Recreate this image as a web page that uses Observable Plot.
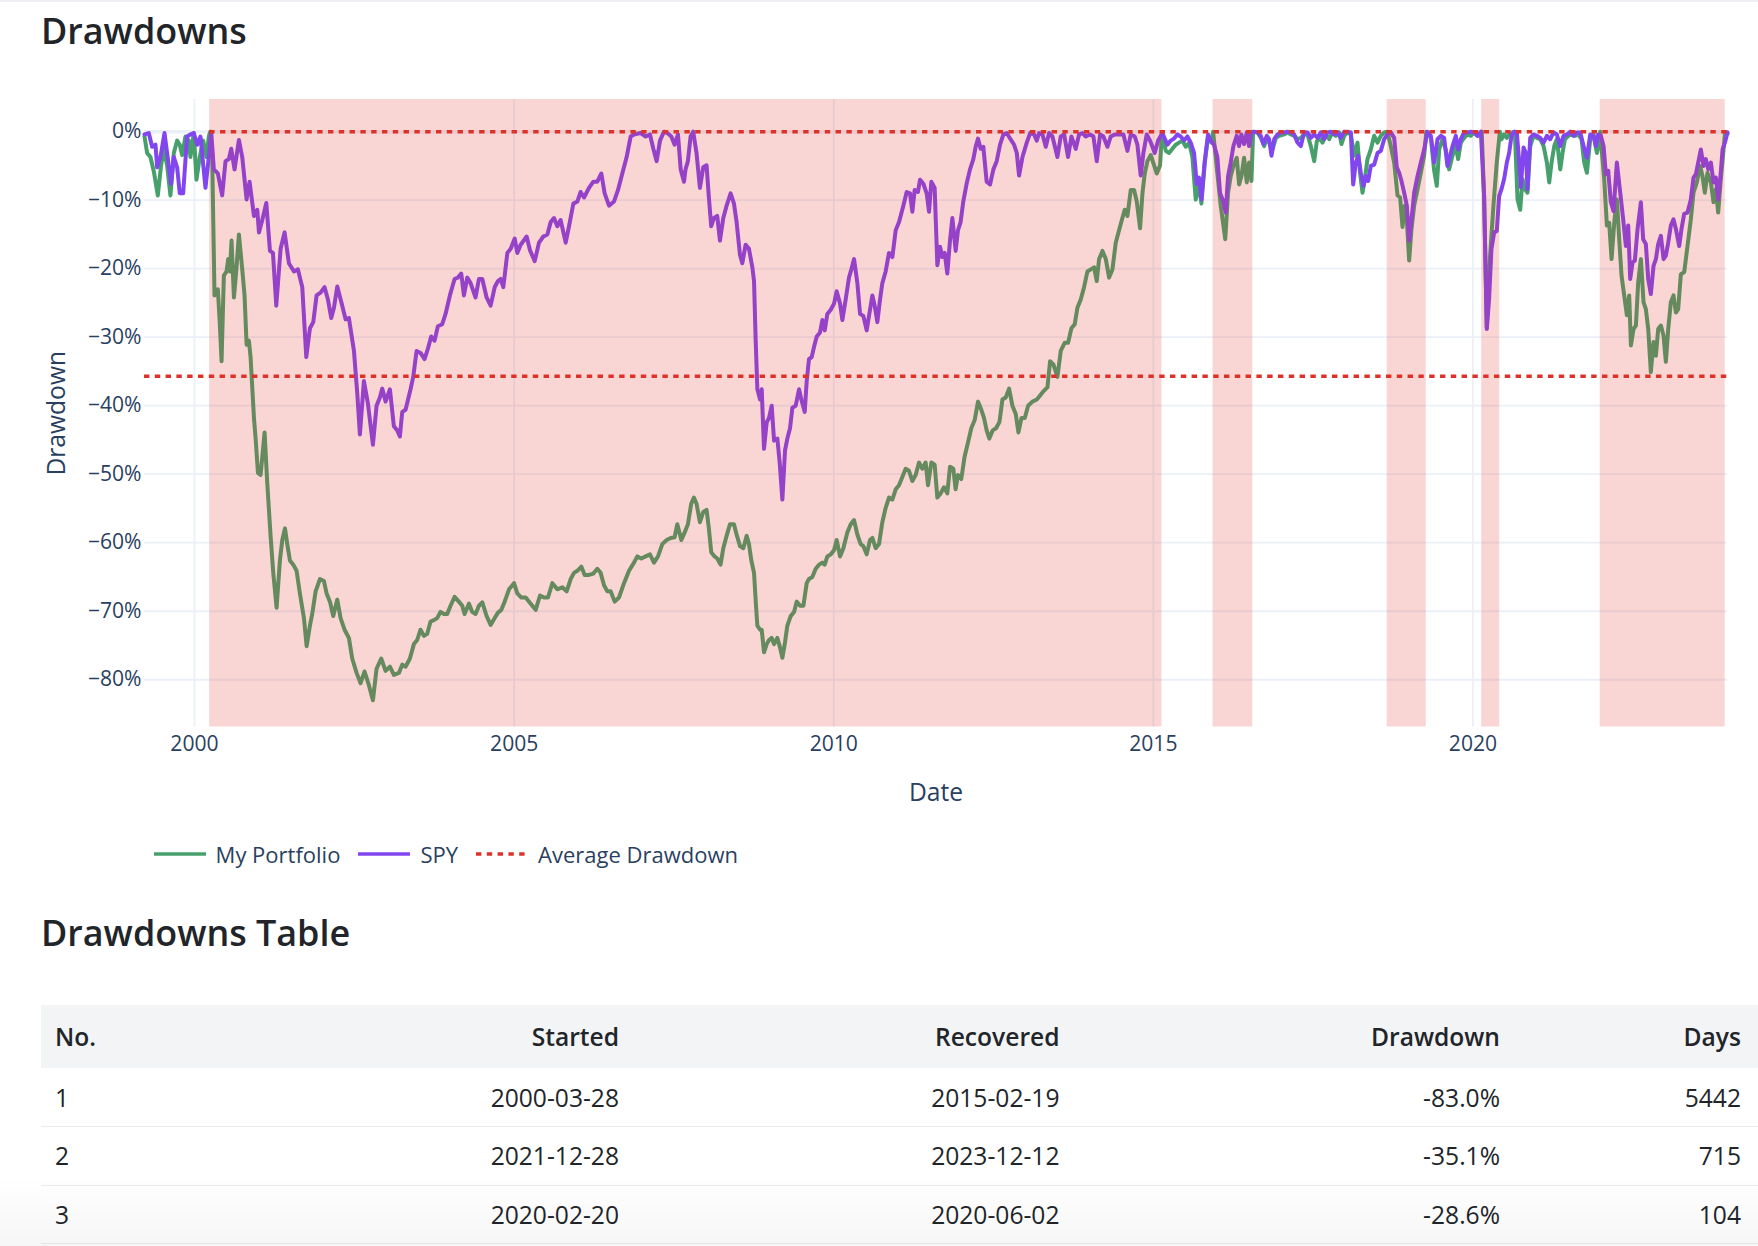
<!DOCTYPE html>
<html>
<head>
<meta charset="utf-8">
<script src="https://cdn.jsdelivr.net/npm/d3@7"></script>
<script src="https://cdn.jsdelivr.net/npm/@observablehq/plot@0.6"></script>
<style>
html, body { margin: 0; padding: 0; background: #ffffff; }
body { width: 1758px; height: 1246px; position: relative; overflow: hidden; font-family: "Open Sans", sans-serif; }
.topline { position: absolute; left: 0; top: 0; width: 1758px; height: 2px; background: #eef0f3; }
.heading { position: absolute; left: 41px; font-size: 35.9px; line-height: 1; font-weight: 600; color: #212529; white-space: nowrap; }
#chart { position: absolute; left: 0; top: 60px; }
#legend { position: absolute; left: 153.6px; top: 839px; height: 30px; display: flex; align-items: center; font-size: 22px; color: #2a3f5f; white-space: nowrap; }
#legend .item { display: flex; align-items: center; margin-right: 18px; }
#legend svg { margin-right: 10px; display: block; }
#table { position: absolute; left: 41px; top: 1005px; width: 1717px; border-collapse: collapse; table-layout: fixed; font-size: 24.6px; color: #212529; }
#table th, #table td { padding: 0 14px; text-align: right; font-weight: 400; white-space: nowrap; }
#table th { font-weight: 600; }
#table th:first-child, #table td:first-child { text-align: left; }
#table th:last-child, #table td:last-child { padding-right: 17px; }
#table thead tr { background: #f3f4f6; height: 63.3px; }
#table tbody tr { height: 58.4px; border-bottom: 1px solid #e9ecef; }
.shade { position: absolute; left: 0; top: 1176px; width: 1758px; height: 70px; background: linear-gradient(to bottom, rgba(0,0,0,0), rgba(0,0,0,0.035)); pointer-events: none; }
</style>
</head>
<body>
<div class="topline"></div>
<div class="heading" style="top:12.5px">Drawdowns</div>
<div id="chart"></div>
<div id="legend"></div>
<div class="heading" style="top:915.2px">Drawdowns Table</div>
<table id="table"></table>
<div class="shade"></div>
<script>
// ---------------- DATA ----------------
// [decimal year, drawdown %]
const portfolioSeries = [
[1999.218,-0.7],[1999.259,-3.1],[1999.311,-3.7],[1999.364,-5.8],[1999.426,-9.3],[1999.478,-4.9],[1999.520,-2.5],[1999.572,-4.9],[1999.624,-9.3],[1999.677,-3.1],[1999.729,-1.3],[1999.770,-1.9],[1999.807,-3.4],[1999.859,-0.7],[1999.911,-1.3],[1999.937,-3.7],[1999.990,-0.2],[2000.031,-7.0],[2000.083,-3.7],[2000.136,-1.3],[2000.188,-3.7],[2000.224,-0.7],[2000.245,0],[2000.276,-3.1],[2000.313,-23.9],[2000.365,-23.0],[2000.396,-28.1],[2000.423,-33.5],[2000.459,-21.0],[2000.501,-20.4],[2000.527,-18.6],[2000.553,-20.4],[2000.579,-15.9],[2000.616,-24.2],[2000.652,-20.4],[2000.694,-15.0],[2000.746,-20.1],[2000.782,-23.9],[2000.814,-31.1],[2000.850,-30.5],[2000.876,-32.9],[2000.929,-41.8],[2000.955,-44.8],[2000.991,-49.8],[2001.033,-50.1],[2001.095,-43.9],[2001.137,-51.3],[2001.189,-59.0],[2001.231,-64.4],[2001.283,-69.5],[2001.335,-62.6],[2001.372,-59.6],[2001.414,-57.9],[2001.450,-60.2],[2001.492,-62.6],[2001.544,-63.2],[2001.596,-64.1],[2001.648,-67.4],[2001.711,-71.0],[2001.753,-75.1],[2001.805,-72.1],[2001.841,-70.4],[2001.894,-67.1],[2001.961,-65.3],[2002.024,-65.6],[2002.066,-67.4],[2002.118,-68.6],[2002.170,-70.7],[2002.233,-68.3],[2002.285,-71.0],[2002.347,-72.7],[2002.415,-73.9],[2002.467,-76.9],[2002.535,-79.0],[2002.598,-80.5],[2002.660,-78.8],[2002.728,-80.8],[2002.791,-83.0],[2002.848,-78.4],[2002.921,-76.9],[2002.989,-78.7],[2003.057,-78.1],[2003.119,-79.3],[2003.198,-79.0],[2003.250,-77.8],[2003.302,-78.1],[2003.370,-76.9],
[2003.432,-74.8],[2003.484,-74.2],[2003.536,-72.7],[2003.589,-73.6],[2003.641,-73.3],[2003.693,-71.5],[2003.745,-71.3],[2003.797,-71.0],[2003.849,-70.1],[2003.902,-70.4],[2003.954,-70.4],[2004.006,-69.2],[2004.069,-67.9],[2004.136,-68.6],[2004.189,-69.2],[2004.225,-70.4],[2004.293,-68.9],[2004.345,-70.1],[2004.397,-70.4],[2004.449,-69.2],[2004.502,-68.7],[2004.569,-70.7],[2004.632,-72.0],[2004.695,-71.0],[2004.747,-70.2],[2004.799,-69.8],[2004.851,-68.6],[2004.919,-66.8],[2004.997,-65.9],[2005.049,-67.4],[2005.112,-68.0],[2005.180,-68.0],[2005.258,-68.9],[2005.336,-69.8],[2005.404,-67.7],[2005.467,-68.0],[2005.529,-68.0],[2005.597,-65.9],[2005.675,-66.8],[2005.754,-66.5],[2005.821,-67.1],[2005.884,-65.3],[2005.936,-64.4],[2005.988,-64.1],[2006.051,-63.5],[2006.103,-64.7],[2006.171,-64.7],[2006.239,-64.5],[2006.301,-63.8],[2006.353,-64.4],[2006.406,-66.2],[2006.458,-67.1],[2006.510,-67.1],[2006.573,-68.6],[2006.640,-68.0],[2006.719,-65.9],[2006.797,-64.1],[2006.875,-62.9],[2006.927,-62.0],[2006.990,-62.3],[2007.058,-62.0],[2007.125,-61.7],[2007.188,-62.9],[2007.251,-62.0],[2007.318,-60.2],[2007.386,-59.6],[2007.449,-59.3],[2007.511,-59.2],[2007.553,-57.3],[2007.616,-59.6],
[2007.682,-58.2],[2007.719,-57.3],[2007.771,-54.3],[2007.813,-53.4],[2007.854,-54.3],[2007.907,-57.0],[2007.959,-55.5],[2008.011,-55.2],[2008.047,-57.9],[2008.084,-61.4],[2008.136,-62.0],[2008.178,-62.3],[2008.230,-63.2],[2008.272,-60.8],[2008.324,-59.0],[2008.376,-57.3],[2008.439,-57.3],[2008.480,-58.8],[2008.533,-60.5],[2008.585,-60.8],[2008.637,-59.0],[2008.673,-60.2],[2008.710,-62.6],[2008.752,-64.4],[2008.783,-69.2],[2008.804,-72.1],[2008.846,-72.7],[2008.872,-72.7],[2008.908,-76.0],[2008.950,-74.8],[2008.986,-74.2],[2009.028,-73.9],[2009.065,-74.8],[2009.117,-73.9],[2009.153,-75.1],[2009.195,-76.8],[2009.237,-74.5],[2009.273,-72.1],[2009.326,-70.7],[2009.378,-70.1],[2009.419,-68.6],[2009.472,-69.2],[2009.524,-69.2],[2009.576,-65.9],[2009.612,-65.3],[2009.664,-65.0],[2009.717,-63.8],[2009.769,-63.2],[2009.821,-62.9],[2009.858,-63.2],[2009.899,-62.0],[2009.952,-61.7],[2010.004,-61.1],[2010.045,-59.6],[2010.098,-62.0],[2010.150,-60.8],[2010.212,-58.5],[2010.265,-57.3],[2010.317,-56.7],[2010.369,-58.8],[2010.421,-60.2],[2010.463,-60.5],[2010.515,-61.7],[2010.567,-59.6],[2010.604,-59.3],[2010.656,-60.8],[2010.708,-60.2],[2010.760,-57.0],[2010.812,-54.9],[2010.864,-53.4],[2010.917,-53.7],[2010.969,-52.2],[2011.021,-51.6],[2011.073,-50.4],[2011.125,-49.2],[2011.177,-49.5],[2011.230,-51.0],[2011.282,-50.1],[2011.334,-48.3],[2011.386,-49.2],[2011.438,-48.3],[2011.475,-51.6],[2011.527,-48.3],[2011.579,-48.6],[2011.621,-53.4],[2011.673,-52.8],[2011.725,-51.9],[2011.777,-52.8],[2011.819,-48.9],[2011.871,-49.2],
[2011.907,-52.2],[2011.944,-50.1],[2011.996,-50.7],[2012.048,-47.4],[2012.100,-45.4],[2012.152,-43.3],[2012.205,-42.1],[2012.257,-39.4],[2012.309,-40.6],[2012.351,-41.8],[2012.392,-43.6],[2012.434,-44.8],[2012.486,-43.6],[2012.538,-43.3],[2012.591,-42.4],[2012.638,-39.1],[2012.690,-38.8],[2012.742,-37.5],[2012.794,-40.0],[2012.846,-41.2],[2012.888,-43.9],[2012.935,-41.8],[2012.987,-41.8],[2013.039,-40.0],[2013.107,-39.4],[2013.175,-39.1],[2013.227,-38.5],[2013.279,-37.9],[2013.342,-37.3],[2013.383,-33.5],[2013.436,-34.0],[2013.498,-35.8],[2013.550,-32.0],[2013.613,-30.8],[2013.665,-30.8],[2013.717,-28.7],[2013.769,-28.1],[2013.811,-25.7],[2013.863,-24.5],[2013.915,-22.7],[2013.968,-20.4],[2014.020,-20.1],[2014.072,-19.8],[2014.114,-21.8],[2014.150,-18.6],[2014.203,-17.4],[2014.255,-18.6],[2014.307,-21.3],[2014.359,-20.1],[2014.411,-16.2],[2014.463,-14.4],[2014.515,-12.6],[2014.552,-11.4],[2014.594,-12.3],[2014.646,-8.5],[2014.698,-8.5],[2014.740,-10.2],[2014.792,-14.1],[2014.829,-9.0],[2014.865,-6.1],[2014.907,-4.3],[2014.959,-3.4],[2015.000,-4.6],[2015.053,-6.1],[2015.105,-4.9],[2015.135,0],[2015.194,-2.8],[2015.246,-3.1],[2015.298,-2.5],[2015.350,-1.9],[2015.402,-1.6],[2015.454,-1.3],[2015.507,-2.2],[2015.559,-1.6],[2015.611,-3.7],[2015.663,-9.9],[2015.715,-7.6],[2015.752,-10.5],[2015.804,-4.6],[2015.856,-0.7],[2015.908,-1.6],[2015.935,0],[2016.002,-6.1],[2016.054,-10.8],[2016.125,-15.7],
[2016.169,-8.9],[2016.210,-6.5],[2016.252,-5.0],[2016.304,-3.8],[2016.341,-7.7],[2016.377,-6.5],[2016.419,-3.8],[2016.461,-7.4],[2016.497,-4.5],[2016.534,-7.2],[2016.560,0],[2016.628,-0.1],[2016.680,-0.9],[2016.732,-2.1],[2016.774,-0.9],[2016.810,-1.6],[2016.863,-2.6],[2016.915,-0.9],[2016.967,-0.6],[2017.045,-0.4],[2017.097,-0.1],[2017.150,-0.4],[2017.202,-0.6],[2017.254,-1.1],[2017.306,-0.9],[2017.358,-0.4],[2017.410,-0.4],[2017.462,-2.1],[2017.515,-4.3],[2017.556,-1.4],[2017.593,-0.9],[2017.645,-1.6],[2017.697,-0.4],[2017.749,-1.1],[2017.801,-0.1],[2017.854,-0.6],[2017.906,-0.1],[2017.942,-1.8],[2017.984,-0.6],[2018.036,-0.1],[2018.088,-0.4],[2018.141,-3.5],[2018.193,-1.6],[2018.235,-6.2],[2018.271,-8.9],[2018.308,-6.9],[2018.349,-4.0],[2018.401,-2.6],[2018.454,-0.6],[2018.506,-1.6],[2018.558,-0.6],[2018.610,-0.1],[2018.662,0],[2018.714,-2.1],[2018.767,-4.5],[2018.819,-9.3],[2018.860,-9.6],[2018.897,-13.9],[2018.933,-10.8],[2018.965,-12.8],[2019.001,-18.8],[2019.038,-14.2],[2019.080,-10.8],[2019.132,-8.4],[2019.184,-6.0],[2019.236,-3.5],[2019.270,0],[2019.341,-0.9],[2019.393,-5.7],[2019.434,-7.9],[2019.471,-2.6],[2019.523,-1.1],[2019.575,-2.6],[2019.627,-5.5],[2019.680,-3.5],[2019.732,-2.1],[2019.768,-4.0],[2019.810,-1.6],[2019.862,-0.9],[2019.914,-0.4],[2019.966,-0.6],[2020.018,-0.1],[2020.071,-0.6],[2020.137,0],
[2020.174,-9.4],[2020.216,-28.6],[2020.268,-18.1],[2020.320,-10.8],[2020.372,-4.5],[2020.420,0],[2020.445,-1.1],[2020.487,-0.4],[2020.529,-0.9],[2020.565,-0.4],[2020.618,-0.1],[2020.654,0],[2020.696,-9.9],[2020.738,-11.4],[2020.774,-6.9],[2020.811,-8.4],[2020.852,-8.9],[2020.894,-2.1],[2020.946,-0.6],[2020.998,-0.9],[2021.051,-1.1],[2021.103,-2.1],[2021.155,-4.5],[2021.191,-7.4],[2021.228,-4.5],[2021.270,-2.1],[2021.311,-1.1],[2021.364,-5.5],[2021.400,-3.1],[2021.437,-1.1],[2021.489,-0.6],[2021.541,-0.4],[2021.593,-0.6],[2021.645,-0.4],[2021.697,-1.1],[2021.739,-4.5],[2021.781,-6.0],[2021.833,-1.1],[2021.885,-0.4],[2021.937,-3.1],[2021.974,-1.6],[2021.988,0],[2022.052,-6.9],[2022.094,-13.7],[2022.130,-13.3],[2022.167,-18.6],[2022.209,-13.3],[2022.250,-9.9],[2022.287,-15.7],[2022.323,-21.0],[2022.365,-23.9],[2022.407,-26.8],[2022.443,-23.9],[2022.470,-31.2],[2022.511,-28.8],[2022.548,-28.3],[2022.584,-22.0],[2022.626,-18.6],[2022.668,-24.9],[2022.704,-25.9],[2022.741,-28.8],[2022.782,-35.1],[2022.824,-30.7],[2022.861,-32.7],[2022.897,-28.8],[2022.939,-28.3],[2022.981,-29.8],[2023.017,-33.6],[2023.054,-28.8],[2023.095,-24.9],[2023.137,-23.9],[2023.174,-26.4],[2023.210,-25.9],[2023.252,-20.8],[2023.304,-20.5],[2023.356,-16.7],[2023.408,-12.8],[2023.450,-8.9],[2023.502,-7.4],[2023.554,-5.0],[2023.591,-6.5],[2023.627,-8.9],[2023.669,-6.0],[2023.722,-7.4],[2023.763,-10.3],[2023.800,-8.4],[2023.836,-11.8],[2023.878,-6.9],[2023.920,-2.6],[2023.945,0],[2023.982,-0.3]
];

const spySeries = [
[1999.218,-0.4],[1999.285,-0.2],[1999.337,-2.2],[1999.390,-1.9],[1999.416,-5.2],[1999.468,-3.7],[1999.531,-0.2],[1999.572,-3.1],[1999.635,-7.6],[1999.677,-3.7],[1999.729,-5.2],[1999.770,-9.0],[1999.823,-9.0],[1999.885,-0.7],[1999.937,-0.4],[1999.990,-0.2],[2000.042,-1.9],[2000.094,-0.7],[2000.172,-8.2],[2000.224,-3.7],[2000.261,0],[2000.303,-5.5],[2000.365,-6.1],[2000.433,-9.3],[2000.485,-4.3],[2000.537,-4.0],[2000.574,-2.5],[2000.626,-5.5],[2000.694,-1.2],[2000.746,-3.7],[2000.814,-9.9],[2000.861,-7.3],[2000.929,-12.3],[2000.981,-11.4],[2001.007,-14.7],[2001.059,-12.9],[2001.122,-10.4],[2001.179,-17.4],[2001.226,-17.7],[2001.278,-25.4],[2001.346,-17.1],[2001.408,-14.7],[2001.476,-19.2],[2001.555,-20.4],[2001.617,-20.1],[2001.685,-22.7],[2001.748,-32.9],[2001.805,-28.7],[2001.857,-27.8],[2001.909,-23.9],[2001.972,-23.5],[2002.034,-22.7],[2002.087,-24.5],[2002.139,-27.2],[2002.181,-25.7],[2002.233,-22.6],[2002.311,-25.4],[2002.363,-27.4],[2002.415,-27.2],[2002.494,-32.0],[2002.546,-38.2],[2002.587,-44.2],[2002.650,-36.4],[2002.713,-39.7],[2002.791,-45.7],[2002.848,-40.0],[2002.900,-38.8],[2002.937,-37.5],[2002.989,-39.4],[2003.057,-37.6],[2003.119,-43.0],[2003.172,-43.6],[2003.213,-44.5],[2003.250,-40.9],[2003.302,-40.6],[2003.380,-37.6],
[2003.422,-35.8],[2003.474,-32.0],[2003.536,-32.3],[2003.599,-33.2],[2003.651,-31.7],[2003.703,-29.9],[2003.756,-30.5],[2003.808,-28.4],[2003.876,-28.1],[2003.928,-26.6],[2003.996,-23.9],[2004.069,-21.5],[2004.121,-21.3],[2004.173,-20.7],[2004.215,-23.9],[2004.267,-21.3],[2004.319,-22.1],[2004.397,-24.2],[2004.449,-21.5],[2004.502,-21.5],[2004.569,-24.2],[2004.632,-25.4],[2004.695,-22.7],[2004.747,-21.8],[2004.788,-21.5],[2004.830,-22.7],[2004.893,-17.7],[2004.945,-17.1],[2005.008,-15.6],[2005.049,-17.7],[2005.101,-16.5],[2005.195,-15.3],[2005.247,-17.3],[2005.321,-18.9],[2005.388,-16.2],[2005.456,-15.3],[2005.519,-15.0],[2005.571,-13.2],[2005.623,-12.6],[2005.675,-13.8],[2005.727,-12.9],[2005.806,-16.2],[2005.858,-13.8],[2005.926,-10.5],[2005.988,-10.2],[2006.040,-8.8],[2006.093,-9.6],[2006.171,-8.2],[2006.239,-7.3],[2006.301,-7.3],[2006.364,-6.1],[2006.416,-9.0],[2006.484,-10.8],[2006.562,-10.2],[2006.625,-8.5],[2006.692,-6.1],[2006.760,-3.7],[2006.823,-0.7],[2006.875,-0.4],[2006.979,-0.2],[2007.058,-0.7],[2007.125,-0.4],[2007.178,-2.5],[2007.230,-4.3],[2007.282,-1.3],[2007.344,0],[2007.397,-0.2],[2007.459,-0.7],[2007.511,-1.9],[2007.564,-0.4],[2007.606,-5.5],[2007.658,-7.3],
[2007.682,-5.5],[2007.719,-4.3],[2007.761,-0.7],[2007.802,0],[2007.854,-3.1],[2007.907,-8.2],[2007.959,-5.2],[2008.011,-4.9],[2008.047,-9.6],[2008.084,-13.8],[2008.126,-12.6],[2008.178,-12.3],[2008.220,-15.9],[2008.272,-12.6],[2008.324,-10.8],[2008.387,-9.0],[2008.439,-10.5],[2008.480,-13.2],[2008.533,-18.0],[2008.569,-19.2],[2008.621,-16.5],[2008.673,-17.1],[2008.726,-19.8],[2008.752,-21.8],[2008.778,-30.5],[2008.804,-37.6],[2008.846,-39.1],[2008.872,-37.6],[2008.908,-46.3],[2008.950,-42.4],[2008.986,-41.8],[2009.028,-40.0],[2009.065,-45.1],[2009.117,-44.8],[2009.153,-48.3],[2009.195,-53.7],[2009.237,-46.5],[2009.273,-44.8],[2009.315,-43.3],[2009.352,-40.3],[2009.404,-40.0],[2009.456,-37.6],[2009.492,-39.1],[2009.545,-40.9],[2009.576,-36.4],[2009.612,-33.2],[2009.654,-32.9],[2009.691,-31.4],[2009.733,-29.9],[2009.785,-29.3],[2009.821,-27.5],[2009.858,-29.0],[2009.899,-26.6],[2009.952,-26.0],[2010.004,-25.1],[2010.045,-23.3],[2010.098,-25.1],[2010.134,-27.5],[2010.186,-24.5],[2010.238,-21.3],[2010.275,-20.1],[2010.317,-18.6],[2010.369,-22.1],[2010.411,-26.6],[2010.463,-26.9],[2010.515,-29.0],[2010.551,-26.9],[2010.604,-23.9],[2010.640,-25.4],[2010.682,-27.8],[2010.724,-24.5],[2010.760,-22.1],[2010.812,-20.4],[2010.864,-17.7],[2010.917,-18.3],[2010.969,-14.4],[2011.021,-13.2],[2011.089,-10.8],[2011.141,-8.8],[2011.193,-9.0],[2011.230,-11.7],[2011.266,-8.5],[2011.318,-8.8],[2011.350,-7.0],[2011.402,-7.6],[2011.454,-9.0],[2011.491,-11.7],[2011.527,-7.3],[2011.579,-8.2],[2011.621,-19.5],[2011.663,-16.8],[2011.699,-18.3],[2011.736,-17.7],[2011.777,-20.7],[2011.819,-15.9],[2011.856,-12.6],[2011.908,-17.4],
[2011.944,-14.4],[2011.985,-13.2],[2012.027,-10.2],[2012.079,-7.6],[2012.132,-5.5],[2012.184,-4.0],[2012.220,-2.2],[2012.257,-1.0],[2012.298,-2.5],[2012.340,-2.2],[2012.392,-7.3],[2012.445,-7.7],[2012.497,-5.5],[2012.549,-4.3],[2012.601,-1.9],[2012.653,-0.4],[2012.705,-0.2],[2012.758,-1.0],[2012.820,-1.9],[2012.862,-3.1],[2012.898,-6.4],[2012.951,-3.7],[2013.018,-1.6],[2013.071,-0.2],[2013.133,-0.4],[2013.175,-1.3],[2013.211,-0.2],[2013.264,-0.4],[2013.316,-2.2],[2013.368,-0.2],[2013.420,-0.7],[2013.498,-3.7],[2013.550,-0.7],[2013.603,-0.4],[2013.665,-3.7],[2013.717,-0.7],[2013.785,-2.5],[2013.837,-0.4],[2013.890,-0.2],[2013.942,-0.7],[2014.009,-0.4],[2014.062,-0.7],[2014.114,-4.3],[2014.166,-0.4],[2014.218,-0.7],[2014.281,-2.2],[2014.333,-0.7],[2014.396,-0.4],[2014.463,-0.4],[2014.531,-0.4],[2014.594,-2.8],[2014.646,-0.4],[2014.709,-0.7],[2014.750,-1.9],[2014.802,-6.4],[2014.844,-3.1],[2014.896,-0.4],[2014.948,-1.3],[2014.985,-2.2],[2015.021,-3.1],[2015.074,-1.3],[2015.141,-0.2],[2015.220,-1.9],[2015.272,-1.3],[2015.324,-1.0],[2015.376,-0.4],[2015.428,-0.7],[2015.480,-1.3],[2015.533,-0.7],[2015.585,-1.6],[2015.637,-3.1],[2015.679,-7.6],[2015.715,-6.7],[2015.752,-9.9],[2015.804,-4.3],[2015.856,-0.4],[2015.898,-1.3],[2015.950,-1.9],[2016.002,-3.7],[2016.044,-9.0],[2016.096,-10.2],
[2016.132,-11.8],[2016.169,-6.5],[2016.210,-4.5],[2016.252,-2.1],[2016.304,-0.6],[2016.341,-2.1],[2016.377,-0.4],[2016.419,-1.8],[2016.461,-0.1],[2016.497,-2.1],[2016.534,-0.1],[2016.576,0],[2016.628,-0.1],[2016.680,-0.6],[2016.722,-1.8],[2016.774,-0.6],[2016.810,-1.1],[2016.847,-3.5],[2016.889,-1.1],[2016.941,-0.4],[2016.993,-0.1],[2017.045,-0.1],[2017.097,0],[2017.150,-0.1],[2017.202,-0.4],[2017.254,-1.6],[2017.306,-2.1],[2017.358,-0.1],[2017.410,-0.1],[2017.462,-0.9],[2017.515,-0.4],[2017.567,-0.9],[2017.619,-0.1],[2017.671,-1.1],[2017.723,-0.1],[2017.775,0],[2017.828,-0.4],[2017.880,-0.1],[2017.932,-0.9],[2017.984,0],[2018.036,0],[2018.088,-0.1],[2018.125,-7.7],[2018.167,-4.5],[2018.203,-3.5],[2018.245,-6.0],[2018.287,-7.9],[2018.323,-6.5],[2018.360,-7.2],[2018.401,-5.0],[2018.454,-4.8],[2018.506,-3.1],[2018.558,-2.8],[2018.610,-1.1],[2018.662,-0.4],[2018.714,-0.1],[2018.767,-0.9],[2018.808,-5.2],[2018.845,-6.0],[2018.881,-7.2],[2018.923,-8.9],[2018.965,-10.8],[2019.001,-15.9],[2019.038,-12.8],[2019.080,-8.9],[2019.132,-6.5],[2019.184,-4.5],[2019.236,-2.6],[2019.288,0],[2019.341,-0.6],[2019.393,-4.5],[2019.445,-1.1],[2019.497,-0.6],[2019.549,-0.9],[2019.601,-5.0],[2019.643,-3.5],[2019.680,-2.1],[2019.732,-0.6],[2019.768,-2.6],[2019.810,-1.1],[2019.862,-0.1],[2019.914,-0.1],[2019.966,0],[2020.018,-0.1],[2020.071,-0.6],[2020.123,0],
[2020.174,-9.4],[2020.216,-28.8],[2020.252,-24.4],[2020.289,-17.1],[2020.331,-14.7],[2020.372,-14.5],[2020.409,-9.4],[2020.445,-8.4],[2020.487,-6.9],[2020.529,-4.5],[2020.565,-3.1],[2020.602,-0.6],[2020.644,0],[2020.685,-0.1],[2020.722,-4.5],[2020.748,-8.1],[2020.790,-2.3],[2020.826,-3.1],[2020.852,-8.4],[2020.894,-0.9],[2020.946,-0.4],[2020.998,-0.6],[2021.051,-0.9],[2021.103,-1.6],[2021.155,-0.6],[2021.207,-1.1],[2021.259,-0.1],[2021.311,-0.4],[2021.364,-2.1],[2021.416,-0.6],[2021.468,-0.4],[2021.520,0],[2021.572,-0.6],[2021.624,-0.1],[2021.677,-0.1],[2021.729,-2.1],[2021.781,-3.8],[2021.833,-0.4],[2021.885,-0.6],[2021.922,-2.1],[2021.958,-0.4],[2022.000,-0.6],[2022.042,-2.1],[2022.078,-6.2],[2022.115,-5.7],[2022.156,-10.3],[2022.198,-11.6],[2022.250,-4.5],[2022.303,-8.9],[2022.355,-13.3],[2022.391,-16.7],[2022.428,-13.7],[2022.459,-21.5],[2022.496,-19.1],[2022.532,-18.8],[2022.574,-14.2],[2022.626,-10.3],[2022.662,-15.7],[2022.704,-16.4],[2022.741,-21.5],[2022.782,-23.7],[2022.824,-19.6],[2022.861,-18.6],[2022.897,-16.4],[2022.939,-15.2],[2022.981,-18.6],[2023.017,-18.1],[2023.054,-16.2],[2023.095,-13.7],[2023.137,-12.8],[2023.174,-14.2],[2023.226,-16.7],[2023.262,-14.2],[2023.304,-12.0],[2023.356,-11.8],[2023.408,-9.9],[2023.450,-6.7],[2023.487,-6.2],[2023.523,-4.5],[2023.565,-2.6],[2023.607,-5.0],[2023.643,-4.0],[2023.680,-5.5],[2023.722,-4.5],[2023.763,-7.4],[2023.800,-6.7],[2023.836,-9.9],[2023.868,-6.9],[2023.905,-2.6],[2023.941,-1.6],[2023.982,-0.1]
];

const drawdownStarts = ["2000-03-28", "2015-12-08", "2018-08-29", "2020-02-20", "2021-12-28"];
const drawdownEnds   = ["2015-02-19", "2016-07-22", "2019-04-09", "2020-06-02", "2023-12-12"];
const averageDrawdownPct = -35.7;

const yTicks = [0, -0.1, -0.2, -0.3, -0.4, -0.5, -0.6, -0.7, -0.8];
const xTickYears = [2000, 2005, 2010, 2015, 2020];
const seriesNames = ["My Portfolio", "SPY", "Average Drawdown"];

const tableNo = [1, 2, 3];
const tableStarted = ["2000-03-28", "2021-12-28", "2020-02-20"];
const tableRecovered = ["2015-02-19", "2023-12-12", "2020-06-02"];
const tableDrawdown = ["-83.0%", "-35.1%", "-28.6%"];
const tableDays = [5442, 715, 104];
const tableHeaders = ["No.", "Started", "Recovered", "Drawdown", "Days"];

// ---------------- STYLE ----------------
const green = "#47a06c";
const purple = "#8246f0";
const red = "#dd3228";
const bandFill = "#e3342a";
const gridColor = "#EBF0F8";
const textColor = "#2a3f5f";

// ---------------- BUILD ----------------
const toDate = y => { const yr = Math.floor(y); const a = Date.UTC(yr, 0, 1), b = Date.UTC(yr + 1, 0, 1); return new Date(a + (y - yr) * (b - a)); };
const portfolio = portfolioSeries.map(([t, v]) => ({date: toDate(t), dd: v / 100}));
const spy = spySeries.map(([t, v]) => ({date: toDate(t), dd: v / 100}));
const xStart = portfolio[0].date;
const xEnd = portfolio[portfolio.length - 1].date;
const yMin = -0.869, yMax = 0.047;
const bands = drawdownStarts.map((s, i) => ({x1: new Date(s), x2: new Date(drawdownEnds[i])}));
const avgLines = [
  {y: 0, x1: bands[0].x1, x2: xEnd},
  {y: averageDrawdownPct / 100, x1: xStart, x2: xEnd}
];
const xTicks = xTickYears.map(y => new Date(Date.UTC(y, 0, 1)));
const pctFmt = d => d === 0 ? "0%" : "\u2212" + Math.round(Math.abs(d) * 100) + "%";

const chart = Plot.plot({
  width: 1758,
  height: 760,
  marginTop: 39,
  marginRight: 31,
  marginBottom: 93.5,
  marginLeft: 144,
  style: {fontFamily: "'Open Sans', sans-serif", fontSize: "21.1px", color: textColor, background: "transparent", overflow: "visible"},
  x: {type: "utc", domain: [xStart, xEnd]},
  y: {domain: [yMin, yMax]},
  marks: [
    Plot.gridY(yTicks, {stroke: gridColor, strokeOpacity: 1, strokeWidth: 1.8}),
    Plot.gridX(xTicks, {stroke: gridColor, strokeOpacity: 1, strokeWidth: 1.8}),
    Plot.ruleY([0], {stroke: gridColor, strokeWidth: 3.5}),
    Plot.line(portfolio, {x: "date", y: "dd", stroke: green, strokeWidth: 4, strokeLinejoin: "round"}),
    Plot.line(spy, {x: "date", y: "dd", stroke: purple, strokeWidth: 4, strokeLinejoin: "round"}),
    Plot.rect(bands, {x1: "x1", x2: "x2", y1: () => yMin, y2: () => yMax, fill: bandFill, fillOpacity: 0.2}),
    Plot.ruleY(avgLines, {y: "y", x1: "x1", x2: "x2", stroke: red, strokeWidth: 3.6, strokeDasharray: "5.4,5.4"}),
    Plot.axisY(yTicks, {tickSize: 0, tickPadding: 3, tickFormat: pctFmt, label: null, fontSize: 21.1, fill: textColor}),
    Plot.axisX(xTicks, {tickSize: 0, tickPadding: 9, tickFormat: d3.utcFormat("%Y"), label: null, fontSize: 21.1, fill: textColor}),
    Plot.text(["Drawdown"], {text: d => d, frameAnchor: "left", dx: -87, rotate: -90, textAnchor: "middle", fontSize: 24.6, fill: textColor}),
    Plot.text(["Date"], {text: d => d, frameAnchor: "bottom", dy: 66, fontSize: 24.6, fill: textColor, lineAnchor: "middle"})
  ]
});
document.getElementById("chart").appendChild(chart);

// legend
const legend = document.getElementById("legend");
const swatchStyles = [
  {stroke: green, dash: null},
  {stroke: purple, dash: null},
  {stroke: red, dash: "5.4,5.4"}
];
seriesNames.forEach((name, i) => {
  const item = document.createElement("div");
  item.className = "item";
  const s = swatchStyles[i];
  item.innerHTML = `<svg width="52" height="8"><line x1="0" x2="52" y1="4" y2="4" stroke="${s.stroke}" stroke-width="3.6"${s.dash ? ` stroke-dasharray="${s.dash}"` : ""}/></svg><span>${name}</span>`;
  legend.appendChild(item);
});

// table
const table = document.getElementById("table");
const colWidths = [178, 414, 440.5, 440.5, 244];
let html = "<colgroup>" + colWidths.map(w => `<col style="width:${w}px">`).join("") + "</colgroup>";
html += "<thead><tr>" + tableHeaders.map(h => `<th>${h}</th>`).join("") + "</tr></thead><tbody>";
tableNo.forEach((n, i) => {
  html += `<tr><td>${n}</td><td>${tableStarted[i]}</td><td>${tableRecovered[i]}</td><td>${tableDrawdown[i]}</td><td>${tableDays[i]}</td></tr>`;
});
html += "</tbody>";
table.innerHTML = html;
</script>
</body>
</html>
